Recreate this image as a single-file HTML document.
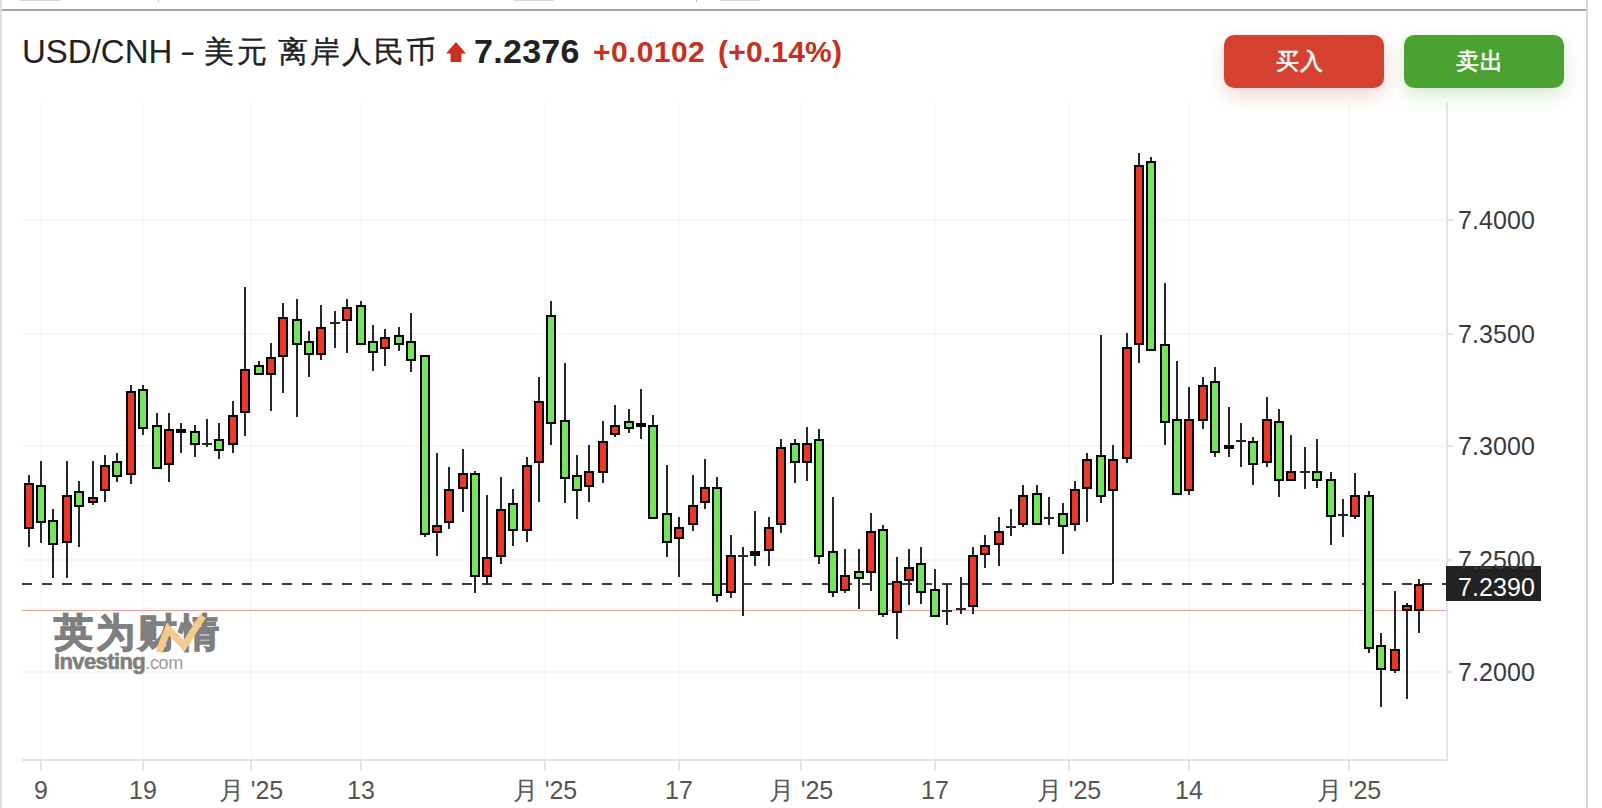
<!DOCTYPE html>
<html><head><meta charset="utf-8"><style>
html,body{margin:0;padding:0;background:#fff;width:1602px;height:808px;overflow:hidden;position:relative;font-family:"Liberation Sans",sans-serif;}
.yl{position:absolute;left:1458px;font-size:25px;line-height:28px;color:#3a3a3a;letter-spacing:0.1px}
.xl{position:absolute;top:776px;width:120px;text-align:center;font-size:25px;line-height:28px;color:#555}
.hdr{position:absolute;top:30px;white-space:nowrap;line-height:40px}
.btn{position:absolute;top:35px;height:53px;width:160px;box-sizing:border-box;padding-right:8px;border-radius:10px;color:#fff;font-size:23px;line-height:53px;text-align:center;font-weight:normal;letter-spacing:1.5px;-webkit-text-stroke:0.6px #fff}
</style></head><body>
<div style="position:absolute;left:0;top:0;width:2px;height:808px;background:#dcdcdc"></div>
<div style="position:absolute;left:1586px;top:0;width:2px;height:808px;background:#d4d4d4"></div>
<div style="position:absolute;left:2px;top:9px;width:1584px;height:2px;background:#a3a3a3"></div>
<div style="position:absolute;left:20px;top:0;width:40px;height:1px;background:#d8d8d8"></div>
<div style="position:absolute;left:514px;top:0;width:40px;height:1px;background:#d8d8d8"></div><div style="position:absolute;left:158px;top:0;width:1px;height:2px;background:#bbb"></div><div style="position:absolute;left:696px;top:0;width:1px;height:2px;background:#bbb"></div>
<div style="position:absolute;left:720px;top:0;width:40px;height:1px;background:#d8d8d8"></div>
<svg width="1602" height="808" viewBox="0 0 1602 808" style="position:absolute;left:0;top:0" shape-rendering="crispEdges"><rect x="40" y="103" width="2" height="655" fill="#f8f8f8"/><rect x="142" y="103" width="2" height="655" fill="#f8f8f8"/><rect x="250" y="103" width="2" height="655" fill="#f8f8f8"/><rect x="360" y="103" width="2" height="655" fill="#f8f8f8"/><rect x="544" y="103" width="2" height="655" fill="#f8f8f8"/><rect x="678" y="103" width="2" height="655" fill="#f8f8f8"/><rect x="800" y="103" width="2" height="655" fill="#f8f8f8"/><rect x="934" y="103" width="2" height="655" fill="#f8f8f8"/><rect x="1068" y="103" width="2" height="655" fill="#f8f8f8"/><rect x="1188" y="103" width="2" height="655" fill="#f8f8f8"/><rect x="1348" y="103" width="2" height="655" fill="#f8f8f8"/><rect x="22" y="219" width="1422" height="2" fill="#f6f6f6"/><rect x="22" y="333" width="1422" height="2" fill="#f6f6f6"/><rect x="22" y="445" width="1422" height="2" fill="#f6f6f6"/><rect x="22" y="559" width="1422" height="2" fill="#f6f6f6"/><rect x="22" y="671" width="1422" height="2" fill="#f6f6f6"/><rect x="22" y="759" width="1426" height="2" fill="#e1e4ea"/><rect x="1446" y="103" width="2" height="658" fill="#e1e4ea"/><rect x="40" y="760" width="2" height="11" fill="#e1e4ea"/><rect x="142" y="760" width="2" height="11" fill="#e1e4ea"/><rect x="250" y="760" width="2" height="11" fill="#e1e4ea"/><rect x="360" y="760" width="2" height="11" fill="#e1e4ea"/><rect x="544" y="760" width="2" height="11" fill="#e1e4ea"/><rect x="678" y="760" width="2" height="11" fill="#e1e4ea"/><rect x="800" y="760" width="2" height="11" fill="#e1e4ea"/><rect x="934" y="760" width="2" height="11" fill="#e1e4ea"/><rect x="1068" y="760" width="2" height="11" fill="#e1e4ea"/><rect x="1188" y="760" width="2" height="11" fill="#e1e4ea"/><rect x="1348" y="760" width="2" height="11" fill="#e1e4ea"/><rect x="1447" y="219" width="6" height="2" fill="#e1e4ea"/><rect x="1447" y="333" width="6" height="2" fill="#e1e4ea"/><rect x="1447" y="445" width="6" height="2" fill="#e1e4ea"/><rect x="1447" y="559" width="6" height="2" fill="#e1e4ea"/><rect x="1447" y="671" width="6" height="2" fill="#e1e4ea"/><rect x="22" y="610" width="1425" height="1" fill="#f4a09a"/><path d="M22 584H1447" stroke="#3c3c3c" stroke-width="2" stroke-dasharray="10 10" fill="none"/><path d="M29 475V547M41 461V543M53 509V578M67 461V578M79 481V547M93 461V505M105 455V502M117 453V482M131 385V484M143 385V435M157 413V469M169 413V482M181 423V453M195 425V457M207 419V447M219 423V459M233 401V453M245 287V436M259 361V375M271 343V411M283 303V393M297 299V417M309 331V377M321 305V360M335 311V348M347 299V353M361 301V345M373 325V371M385 329V366M399 327V351M411 313V372M425 356V537M437 453V556M449 467V529M463 449V512M475 471V593M487 495V585M501 477V564M513 489V546M527 457V542M539 377V502M551 301V445M565 363V503M577 455V519M589 445V502M603 421V483M615 405V437M629 409V433M641 389V439M653 415V519M667 465V557M679 517V577M693 475V531M705 459V509M717 477V602M731 535V598M743 547V616M755 511V566M769 517V566M781 439V533M795 439V483M807 427V481M819 429V564M833 497V597M845 549V593M859 549V609M871 513V591M883 525V617M897 557V639M909 549V605M921 547V604M935 569V617M947 584V625M961 577V614M973 547V614M985 535V568M999 517V566M1011 509V536M1023 485V527M1037 485V525M1049 497V525M1063 503V554M1075 481V531M1087 453V522M1101 335V503M1113 445V584M1127 333V463M1139 153V363M1151 157V351M1165 283V445M1177 361V495M1189 387V495M1203 377V429M1215 367V457M1229 407V457M1241 423V467M1253 437V485M1267 397V467M1279 409V497M1291 435V481M1305 447V489M1317 439V488M1331 472V545M1343 499V537M1355 473V519M1369 491V653M1381 633V707M1395 591V673M1407 603V699M1419 579V633" stroke="#1f292e" stroke-width="2" fill="none"/><rect x="24" y="483" width="10" height="46" fill="#000"/><rect x="26" y="485" width="6" height="42" fill="#e8392a"/><rect x="36" y="485" width="10" height="38" fill="#000"/><rect x="38" y="487" width="6" height="34" fill="#74e45a"/><rect x="48" y="520" width="10" height="25" fill="#000"/><rect x="50" y="522" width="6" height="21" fill="#74e45a"/><rect x="62" y="495" width="10" height="48" fill="#000"/><rect x="64" y="497" width="6" height="44" fill="#e8392a"/><rect x="74" y="491" width="10" height="16" fill="#000"/><rect x="76" y="493" width="6" height="12" fill="#74e45a"/><rect x="88" y="497" width="10" height="6" fill="#000"/><rect x="90" y="499" width="6" height="2" fill="#e8392a"/><rect x="100" y="465" width="10" height="26" fill="#000"/><rect x="102" y="467" width="6" height="22" fill="#e8392a"/><rect x="112" y="461" width="10" height="16" fill="#000"/><rect x="114" y="463" width="6" height="12" fill="#74e45a"/><rect x="126" y="391" width="10" height="84" fill="#000"/><rect x="128" y="393" width="6" height="80" fill="#e8392a"/><rect x="138" y="389" width="10" height="40" fill="#000"/><rect x="140" y="391" width="6" height="36" fill="#74e45a"/><rect x="152" y="425" width="10" height="44" fill="#000"/><rect x="154" y="427" width="6" height="40" fill="#74e45a"/><rect x="164" y="429" width="10" height="36" fill="#000"/><rect x="166" y="431" width="6" height="32" fill="#e8392a"/><rect x="176" y="429" width="10" height="4" fill="#000"/><rect x="190" y="431" width="10" height="14" fill="#000"/><rect x="192" y="433" width="6" height="10" fill="#74e45a"/><rect x="202" y="443" width="10" height="2" fill="#1f292e"/><rect x="214" y="439" width="10" height="12" fill="#000"/><rect x="216" y="441" width="6" height="8" fill="#74e45a"/><rect x="228" y="415" width="10" height="30" fill="#000"/><rect x="230" y="417" width="6" height="26" fill="#e8392a"/><rect x="240" y="369" width="10" height="44" fill="#000"/><rect x="242" y="371" width="6" height="40" fill="#e8392a"/><rect x="254" y="365" width="10" height="10" fill="#000"/><rect x="256" y="367" width="6" height="6" fill="#74e45a"/><rect x="266" y="357" width="10" height="18" fill="#000"/><rect x="268" y="359" width="6" height="14" fill="#e8392a"/><rect x="278" y="317" width="10" height="40" fill="#000"/><rect x="280" y="319" width="6" height="36" fill="#e8392a"/><rect x="292" y="319" width="10" height="26" fill="#000"/><rect x="294" y="321" width="6" height="22" fill="#74e45a"/><rect x="304" y="341" width="10" height="14" fill="#000"/><rect x="306" y="343" width="6" height="10" fill="#74e45a"/><rect x="316" y="327" width="10" height="28" fill="#000"/><rect x="318" y="329" width="6" height="24" fill="#e8392a"/><rect x="330" y="322" width="10" height="2" fill="#1f292e"/><rect x="342" y="307" width="10" height="14" fill="#000"/><rect x="344" y="309" width="6" height="10" fill="#e8392a"/><rect x="356" y="305" width="10" height="40" fill="#000"/><rect x="358" y="307" width="6" height="36" fill="#74e45a"/><rect x="368" y="341" width="10" height="12" fill="#000"/><rect x="370" y="343" width="6" height="8" fill="#74e45a"/><rect x="380" y="337" width="10" height="12" fill="#000"/><rect x="382" y="339" width="6" height="8" fill="#e8392a"/><rect x="394" y="335" width="10" height="10" fill="#000"/><rect x="396" y="337" width="6" height="6" fill="#74e45a"/><rect x="406" y="341" width="10" height="20" fill="#000"/><rect x="408" y="343" width="6" height="16" fill="#74e45a"/><rect x="420" y="355" width="10" height="180" fill="#000"/><rect x="422" y="357" width="6" height="176" fill="#74e45a"/><rect x="432" y="525" width="10" height="8" fill="#000"/><rect x="434" y="527" width="6" height="4" fill="#e8392a"/><rect x="444" y="489" width="10" height="34" fill="#000"/><rect x="446" y="491" width="6" height="30" fill="#e8392a"/><rect x="458" y="473" width="10" height="16" fill="#000"/><rect x="460" y="475" width="6" height="12" fill="#e8392a"/><rect x="470" y="473" width="10" height="104" fill="#000"/><rect x="472" y="475" width="6" height="100" fill="#74e45a"/><rect x="482" y="557" width="10" height="20" fill="#000"/><rect x="484" y="559" width="6" height="16" fill="#e8392a"/><rect x="496" y="509" width="10" height="48" fill="#000"/><rect x="498" y="511" width="6" height="44" fill="#e8392a"/><rect x="508" y="503" width="10" height="28" fill="#000"/><rect x="510" y="505" width="6" height="24" fill="#74e45a"/><rect x="522" y="465" width="10" height="66" fill="#000"/><rect x="524" y="467" width="6" height="62" fill="#e8392a"/><rect x="534" y="401" width="10" height="62" fill="#000"/><rect x="536" y="403" width="6" height="58" fill="#e8392a"/><rect x="546" y="315" width="10" height="109" fill="#000"/><rect x="548" y="317" width="6" height="105" fill="#74e45a"/><rect x="560" y="420" width="10" height="59" fill="#000"/><rect x="562" y="422" width="6" height="55" fill="#74e45a"/><rect x="572" y="475" width="10" height="16" fill="#000"/><rect x="574" y="477" width="6" height="12" fill="#74e45a"/><rect x="584" y="471" width="10" height="16" fill="#000"/><rect x="586" y="473" width="6" height="12" fill="#e8392a"/><rect x="598" y="441" width="10" height="32" fill="#000"/><rect x="600" y="443" width="6" height="28" fill="#e8392a"/><rect x="610" y="425" width="10" height="10" fill="#000"/><rect x="612" y="427" width="6" height="6" fill="#e8392a"/><rect x="624" y="421" width="10" height="8" fill="#000"/><rect x="626" y="423" width="6" height="4" fill="#74e45a"/><rect x="636" y="423" width="10" height="4" fill="#000"/><rect x="648" y="425" width="10" height="94" fill="#000"/><rect x="650" y="427" width="6" height="90" fill="#74e45a"/><rect x="662" y="513" width="10" height="30" fill="#000"/><rect x="664" y="515" width="6" height="26" fill="#74e45a"/><rect x="674" y="527" width="10" height="12" fill="#000"/><rect x="676" y="529" width="6" height="8" fill="#e8392a"/><rect x="688" y="505" width="10" height="20" fill="#000"/><rect x="690" y="507" width="6" height="16" fill="#e8392a"/><rect x="700" y="487" width="10" height="16" fill="#000"/><rect x="702" y="489" width="6" height="12" fill="#e8392a"/><rect x="712" y="487" width="10" height="109" fill="#000"/><rect x="714" y="489" width="6" height="105" fill="#74e45a"/><rect x="726" y="555" width="10" height="38" fill="#000"/><rect x="728" y="557" width="6" height="34" fill="#e8392a"/><rect x="738" y="555" width="10" height="2" fill="#1f292e"/><rect x="750" y="551" width="10" height="5" fill="#000"/><rect x="764" y="527" width="10" height="24" fill="#000"/><rect x="766" y="529" width="6" height="20" fill="#e8392a"/><rect x="776" y="447" width="10" height="78" fill="#000"/><rect x="778" y="449" width="6" height="74" fill="#e8392a"/><rect x="790" y="443" width="10" height="20" fill="#000"/><rect x="792" y="445" width="6" height="16" fill="#74e45a"/><rect x="802" y="443" width="10" height="20" fill="#000"/><rect x="804" y="445" width="6" height="16" fill="#e8392a"/><rect x="814" y="439" width="10" height="118" fill="#000"/><rect x="816" y="441" width="6" height="114" fill="#74e45a"/><rect x="828" y="551" width="10" height="42" fill="#000"/><rect x="830" y="553" width="6" height="38" fill="#74e45a"/><rect x="840" y="575" width="10" height="16" fill="#000"/><rect x="842" y="577" width="6" height="12" fill="#e8392a"/><rect x="854" y="571" width="10" height="8" fill="#000"/><rect x="856" y="573" width="6" height="4" fill="#74e45a"/><rect x="866" y="531" width="10" height="42" fill="#000"/><rect x="868" y="533" width="6" height="38" fill="#e8392a"/><rect x="878" y="529" width="10" height="86" fill="#000"/><rect x="880" y="531" width="6" height="82" fill="#74e45a"/><rect x="892" y="581" width="10" height="32" fill="#000"/><rect x="894" y="583" width="6" height="28" fill="#e8392a"/><rect x="904" y="567" width="10" height="14" fill="#000"/><rect x="906" y="569" width="6" height="10" fill="#e8392a"/><rect x="916" y="563" width="10" height="30" fill="#000"/><rect x="918" y="565" width="6" height="26" fill="#74e45a"/><rect x="930" y="589" width="10" height="28" fill="#000"/><rect x="932" y="591" width="6" height="24" fill="#74e45a"/><rect x="942" y="610" width="10" height="2" fill="#1f292e"/><rect x="956" y="608" width="10" height="2" fill="#1f292e"/><rect x="968" y="555" width="10" height="52" fill="#000"/><rect x="970" y="557" width="6" height="48" fill="#e8392a"/><rect x="980" y="545" width="10" height="10" fill="#000"/><rect x="982" y="547" width="6" height="6" fill="#e8392a"/><rect x="994" y="531" width="10" height="14" fill="#000"/><rect x="996" y="533" width="6" height="10" fill="#e8392a"/><rect x="1006" y="526" width="10" height="2" fill="#1f292e"/><rect x="1018" y="495" width="10" height="30" fill="#000"/><rect x="1020" y="497" width="6" height="26" fill="#e8392a"/><rect x="1032" y="493" width="10" height="32" fill="#000"/><rect x="1034" y="495" width="6" height="28" fill="#74e45a"/><rect x="1044" y="517" width="10" height="2" fill="#1f292e"/><rect x="1058" y="513" width="10" height="14" fill="#000"/><rect x="1060" y="515" width="6" height="10" fill="#74e45a"/><rect x="1070" y="489" width="10" height="36" fill="#000"/><rect x="1072" y="491" width="6" height="32" fill="#e8392a"/><rect x="1082" y="459" width="10" height="30" fill="#000"/><rect x="1084" y="461" width="6" height="26" fill="#e8392a"/><rect x="1096" y="455" width="10" height="42" fill="#000"/><rect x="1098" y="457" width="6" height="38" fill="#74e45a"/><rect x="1108" y="459" width="10" height="32" fill="#000"/><rect x="1110" y="461" width="6" height="28" fill="#e8392a"/><rect x="1122" y="347" width="10" height="112" fill="#000"/><rect x="1124" y="349" width="6" height="108" fill="#e8392a"/><rect x="1134" y="165" width="10" height="180" fill="#000"/><rect x="1136" y="167" width="6" height="176" fill="#e8392a"/><rect x="1146" y="161" width="10" height="190" fill="#000"/><rect x="1148" y="163" width="6" height="186" fill="#74e45a"/><rect x="1160" y="344" width="10" height="79" fill="#000"/><rect x="1162" y="346" width="6" height="75" fill="#74e45a"/><rect x="1172" y="419" width="10" height="76" fill="#000"/><rect x="1174" y="421" width="6" height="72" fill="#74e45a"/><rect x="1184" y="419" width="10" height="72" fill="#000"/><rect x="1186" y="421" width="6" height="68" fill="#e8392a"/><rect x="1198" y="385" width="10" height="36" fill="#000"/><rect x="1200" y="387" width="6" height="32" fill="#e8392a"/><rect x="1210" y="381" width="10" height="72" fill="#000"/><rect x="1212" y="383" width="6" height="68" fill="#74e45a"/><rect x="1224" y="445" width="10" height="4" fill="#000"/><rect x="1236" y="440" width="10" height="2" fill="#1f292e"/><rect x="1248" y="441" width="10" height="24" fill="#000"/><rect x="1250" y="443" width="6" height="20" fill="#74e45a"/><rect x="1262" y="419" width="10" height="44" fill="#000"/><rect x="1264" y="421" width="6" height="40" fill="#e8392a"/><rect x="1274" y="421" width="10" height="60" fill="#000"/><rect x="1276" y="423" width="6" height="56" fill="#74e45a"/><rect x="1286" y="471" width="10" height="10" fill="#000"/><rect x="1288" y="473" width="6" height="6" fill="#e8392a"/><rect x="1300" y="471" width="10" height="2" fill="#1f292e"/><rect x="1312" y="471" width="10" height="10" fill="#000"/><rect x="1314" y="473" width="6" height="6" fill="#74e45a"/><rect x="1326" y="479" width="10" height="38" fill="#000"/><rect x="1328" y="481" width="6" height="34" fill="#74e45a"/><rect x="1338" y="514" width="10" height="2" fill="#1f292e"/><rect x="1350" y="495" width="10" height="22" fill="#000"/><rect x="1352" y="497" width="6" height="18" fill="#e8392a"/><rect x="1364" y="495" width="10" height="154" fill="#000"/><rect x="1366" y="497" width="6" height="150" fill="#74e45a"/><rect x="1376" y="645" width="10" height="25" fill="#000"/><rect x="1378" y="647" width="6" height="21" fill="#74e45a"/><rect x="1390" y="649" width="10" height="22" fill="#000"/><rect x="1392" y="651" width="6" height="18" fill="#e8392a"/><rect x="1402" y="605" width="10" height="6" fill="#000"/><rect x="1404" y="607" width="6" height="2" fill="#e8392a"/><rect x="1414" y="584" width="10" height="27" fill="#000"/><rect x="1416" y="586" width="6" height="23" fill="#e8392a"/><rect x="1446" y="566" width="95" height="35" fill="#222"/></svg>
<div style="position:absolute;left:54px;top:606px;font-size:39px;line-height:54px;font-weight:900;color:#7f7f7f;letter-spacing:3px;-webkit-text-stroke:1.3px #7f7f7f">英为财情</div>
<svg style="position:absolute;left:0;top:0" width="300" height="700"><path d="M159 652L168 629L184 646L203 616" stroke="#f5cb8c" stroke-width="7" fill="none"/></svg>
<div style="position:absolute;left:54px;top:648px;font-size:22px;line-height:28px;font-weight:bold;color:#7f7f7f;letter-spacing:-0.6px;-webkit-text-stroke:0.6px #7f7f7f">Investing<span style="font-weight:normal;color:#9a9a9a;font-size:18px;letter-spacing:-0.3px;-webkit-text-stroke:0">.com</span></div>
<div class="yl" style="top:206px">7.4000</div><div class="yl" style="top:320px">7.3500</div><div class="yl" style="top:432px">7.3000</div><div class="yl" style="top:546px">7.2500</div><div class="yl" style="top:658px">7.2000</div>
<div class="yl" style="top:573px;color:#fff">7.2390</div>
<div class="xl" style="left:-19px">9</div><div class="xl" style="left:83px">19</div><div class="xl" style="left:191px">月 '25</div><div class="xl" style="left:301px">13</div><div class="xl" style="left:485px">月 '25</div><div class="xl" style="left:619px">17</div><div class="xl" style="left:741px">月 '25</div><div class="xl" style="left:875px">17</div><div class="xl" style="left:1009px">月 '25</div><div class="xl" style="left:1129px">14</div><div class="xl" style="left:1289px">月 '25</div>
<div class="hdr" style="left:22px;top:32px;font-size:33px;color:#222">USD/CNH</div>
<div class="hdr" style="left:180px;top:32px;font-size:33px;color:#222;transform:scaleX(1.4);transform-origin:left">-</div>
<div class="hdr" style="left:204px;top:32px;font-size:30px;color:#222;letter-spacing:3px;-webkit-text-stroke:0.4px #222">美元</div>
<div class="hdr" style="left:278px;top:32px;font-size:30px;color:#222;letter-spacing:2px;-webkit-text-stroke:0.4px #222">离岸人民币</div>
<svg style="position:absolute;left:446px;top:42px" width="20" height="20" viewBox="0 0 20 20"><path d="M10 0L20 11.5H15.5V20H4.5V11.5H0Z" fill="#c9301e"/></svg>
<div class="hdr" style="left:474px;top:31px;font-size:34px;font-weight:bold;color:#222;letter-spacing:0.3px">7.2376</div>
<div class="hdr" style="left:593px;top:32px;font-size:30px;font-weight:bold;color:#c9301e;letter-spacing:0.4px">+0.0102</div>
<div class="hdr" style="left:718px;top:32px;font-size:30px;font-weight:bold;color:#c9301e;letter-spacing:0.2px">(+0.14%)</div>
<div class="btn" style="left:1224px;background:#d64231;box-shadow:0 7px 18px rgba(214,66,49,0.24)">买入</div>
<div class="btn" style="left:1404px;background:#4ca231;box-shadow:0 7px 18px rgba(76,162,49,0.24)">卖出</div>
</body></html>
